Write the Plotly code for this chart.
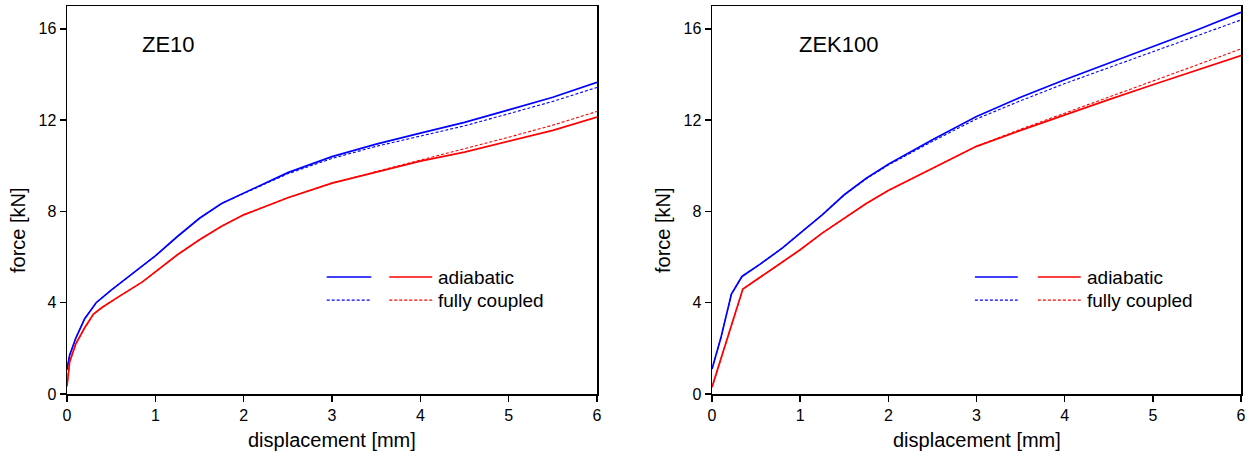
import plotly.graph_objects as go

# ---------------- data ----------------
# ZE10
ze10_blue_solid_x = [0, 0.03, 0.1, 0.2, 0.33, 0.5, 0.85, 1.0, 1.25, 1.5, 1.75, 2.0, 2.5, 3.0, 3.5, 4.0, 4.5, 5.0, 5.5, 6.0]
ze10_blue_solid_y = [1.07, 1.7, 2.45, 3.3, 4.0, 4.55, 5.6, 6.05, 6.9, 7.7, 8.35, 8.8, 9.7, 10.4, 10.95, 11.43, 11.9, 12.45, 13.0, 13.66]
ze10_blue_dash_x = [0, 0.03, 0.1, 0.2, 0.33, 0.5, 0.85, 1.0, 1.25, 1.5, 1.75, 2.0, 2.5, 3.0, 3.5, 4.0, 4.5, 5.0, 5.5, 6.0]
ze10_blue_dash_y = [1.07, 1.7, 2.45, 3.3, 4.0, 4.55, 5.6, 6.05, 6.9, 7.7, 8.35, 8.78, 9.65, 10.32, 10.85, 11.3, 11.75, 12.28, 12.82, 13.43]
ze10_red_solid_x = [0, 0.03, 0.1, 0.2, 0.3, 0.4, 0.6, 0.85, 1.0, 1.25, 1.5, 1.75, 2.0, 2.5, 3.0, 3.5, 4.0, 4.5, 5.0, 5.5, 6.0]
ze10_red_solid_y = [0.34, 1.4, 2.2, 2.9, 3.5, 3.8, 4.3, 4.9, 5.35, 6.1, 6.76, 7.35, 7.85, 8.6, 9.24, 9.72, 10.2, 10.6, 11.07, 11.55, 12.13]
ze10_red_dash_x = [0, 0.03, 0.1, 0.2, 0.3, 0.4, 0.6, 0.85, 1.0, 1.25, 1.5, 1.75, 2.0, 2.5, 3.0, 3.5, 4.0, 4.5, 5.0, 5.5, 6.0]
ze10_red_dash_y = [0.34, 1.4, 2.2, 2.9, 3.5, 3.8, 4.3, 4.9, 5.35, 6.1, 6.76, 7.35, 7.85, 8.6, 9.24, 9.74, 10.25, 10.72, 11.25, 11.78, 12.38]

# ZEK100
zek_blue_solid_x = [0, 0.1, 0.22, 0.34, 0.55, 0.8, 1.0, 1.25, 1.5, 1.75, 2.0, 2.5, 3.0, 3.5, 4.0, 4.5, 5.0, 5.5, 6.0]
zek_blue_solid_y = [1.09, 2.45, 4.38, 5.15, 5.7, 6.4, 7.05, 7.85, 8.73, 9.45, 10.07, 11.14, 12.16, 13.0, 13.77, 14.5, 15.23, 15.95, 16.72]
zek_blue_dash_x = [0, 0.1, 0.22, 0.34, 0.55, 0.8, 1.0, 1.25, 1.5, 1.75, 2.0, 2.5, 3.0, 3.5, 4.0, 4.5, 5.0, 5.5, 6.0]
zek_blue_dash_y = [1.09, 2.45, 4.38, 5.15, 5.7, 6.4, 7.05, 7.85, 8.73, 9.43, 10.03, 11.07, 12.05, 12.85, 13.6, 14.3, 15.0, 15.7, 16.39]
zek_red_solid_x = [0, 0.35, 0.7, 1.0, 1.25, 1.5, 1.75, 2.0, 2.5, 3.0, 3.5, 4.0, 4.5, 5.0, 5.5, 6.0]
zek_red_solid_y = [0.3, 4.6, 5.52, 6.32, 7.05, 7.7, 8.35, 8.92, 9.9, 10.85, 11.55, 12.23, 12.9, 13.55, 14.18, 14.83]
zek_red_dash_x = [0, 0.35, 0.7, 1.0, 1.25, 1.5, 1.75, 2.0, 2.5, 3.0, 3.5, 4.0, 4.5, 5.0, 5.5, 6.0]
zek_red_dash_y = [0.3, 4.6, 5.52, 6.32, 7.05, 7.7, 8.35, 8.92, 9.9, 10.85, 11.6, 12.3, 13.0, 13.7, 14.4, 15.12]

panel_titles = ["ZE10", "ZEK100"]
legend_labels = ["adiabatic", "fully coupled"]
x_title = "displacement [mm]"
y_title = "force [kN]"
x_ticks = [0, 1, 2, 3, 4, 5, 6]
y_ticks = [0, 4, 8, 12, 16]

BLUE = "#0000FF"
RED = "#FF0000"
FONT = "Liberation Sans, Arial, sans-serif"
DASH = "3px,2px"

fig = go.Figure()

def add(x, y, color, dash, xa, ya):
    fig.add_trace(go.Scatter(
        x=x, y=y, mode="lines", xaxis=xa, yaxis=ya, showlegend=False,
        line=dict(color=color, width=1.7 if dash == "solid" else 1.1,
                  dash="solid" if dash == "solid" else DASH),
        hoverinfo="skip"))

add(ze10_blue_dash_x, ze10_blue_dash_y, BLUE, "dash", "x", "y")
add(ze10_red_dash_x, ze10_red_dash_y, RED, "dash", "x", "y")
add(ze10_blue_solid_x, ze10_blue_solid_y, BLUE, "solid", "x", "y")
add(ze10_red_solid_x, ze10_red_solid_y, RED, "solid", "x", "y")

add(zek_blue_dash_x, zek_blue_dash_y, BLUE, "dash", "x2", "y2")
add(zek_red_dash_x, zek_red_dash_y, RED, "dash", "x2", "y2")
add(zek_blue_solid_x, zek_blue_solid_y, BLUE, "solid", "x2", "y2")
add(zek_red_solid_x, zek_red_solid_y, RED, "solid", "x2", "y2")

ydom = [1 - 394 / 459, 1 - 6 / 459]
axis_common = dict(
    showline=True, linecolor="black", linewidth=1.5, mirror=True,
    ticks="outside", ticklen=6, tickwidth=1.5, tickcolor="black",
    showgrid=False, zeroline=False, automargin=False,
    tickfont=dict(family=FONT, size=16, color="black"),
)
xaxis_common = dict(axis_common, range=[0, 6], tickvals=x_ticks)
yaxis_common = dict(axis_common, range=[0, 17], tickvals=y_ticks)

fig.update_layout(
    width=1250, height=459,
    margin=dict(l=0, r=0, t=0, b=0),
    paper_bgcolor="white", plot_bgcolor="white",
    font=dict(family=FONT, color="black"),
    xaxis=dict(xaxis_common, domain=[67 / 1250, 597 / 1250], anchor="y"),
    yaxis=dict(yaxis_common, domain=ydom, anchor="x"),
    xaxis2=dict(xaxis_common, domain=[712 / 1250, 1241 / 1250], anchor="y2"),
    yaxis2=dict(yaxis_common, domain=ydom, anchor="x2"),
)

shapes = []
annotations = []
panels = [
    ("x", "y", panel_titles[0], 0.138, [0.49, 0.574], [0.608, 0.689], 0.697, 67, 597),
    ("x2", "y2", panel_titles[1], 0.16, [0.497, 0.578], [0.616, 0.697], 0.705, 712, 1241),
]
for xa, ya, title, tx, bseg, rseg, txtx, px0, px1 in panels:
    annotations.append(dict(text=title, xref=xa + " domain", yref=ya + " domain", x=tx, y=0.9,
                            xanchor="left", yanchor="middle", showarrow=False,
                            font=dict(family=FONT, size=22, color="black")))
    # axis titles
    annotations.append(dict(text=x_title, xref="paper", yref="paper",
                            x=((px0 + px1) / 2) / 1250, y=1 - 440 / 459,
                            xanchor="center", yanchor="middle", showarrow=False,
                            font=dict(family=FONT, size=20, color="black")))
    annotations.append(dict(text=y_title, xref="paper", yref="paper",
                            x=(px0 - 49) / 1250, y=1 - 230 / 459, textangle=-90,
                            xanchor="center", yanchor="middle", showarrow=False,
                            font=dict(family=FONT, size=20, color="black")))
    for row, (yy, dash) in enumerate([(0.3015, "solid"), (0.242, DASH)]):
        w = 1.7 if dash == "solid" else 1.1
        shapes.append(dict(type="line", xref=xa + " domain", yref=ya + " domain",
                           x0=bseg[0], x1=bseg[1], y0=yy, y1=yy,
                           line=dict(color=BLUE, width=w, dash=dash)))
        shapes.append(dict(type="line", xref=xa + " domain", yref=ya + " domain",
                           x0=rseg[0], x1=rseg[1], y0=yy, y1=yy,
                           line=dict(color=RED, width=w, dash=dash)))
        annotations.append(dict(text=legend_labels[row], xref=xa + " domain", yref=ya + " domain",
                                x=txtx, y=yy, xanchor="left", yanchor="middle", showarrow=False,
                                font=dict(family=FONT, size=19, color="black")))

fig.update_layout(shapes=shapes, annotations=annotations)
fig.write_html("out.html",
               config={"displayModeBar": False, "staticPlot": True},
               post_script="document.body.style.margin='0';document.body.style.padding='0';document.body.style.overflow='hidden';")
